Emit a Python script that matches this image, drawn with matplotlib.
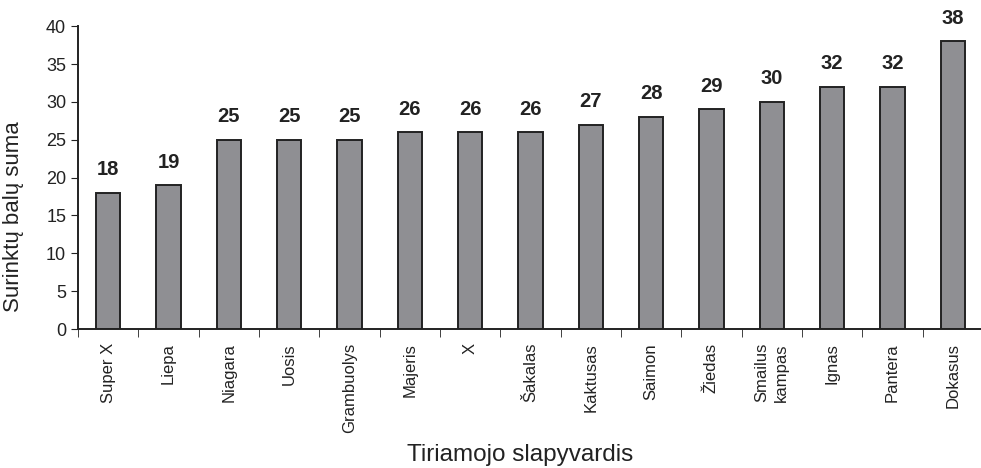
import numpy as np
import matplotlib.pyplot as plt

names = ["Super X", "Liepa", "Niagara", "Uosis", "Grambuolys", "Majeris", "X",
         "Šakalas", "Kaktusas", "Saimon", "Žiedas", "Smailus\nkampas", "Ignas",
         "Pantera", "Dokasus"]
scores = [18, 19, 25, 25, 25, 26, 26, 26, 27, 28, 29, 30, 32, 32, 38]

plt.rcParams['font.family'] = ['Liberation Sans', 'DejaVu Sans']

fig = plt.figure(figsize=(9.81, 4.68), dpi=100)
ax = fig.add_axes([0.0795, 0.297, 0.9225, 0.647])

x = np.arange(len(names))
ax.bar(x, scores, width=0.4, color='#8f8f93', edgecolor='#222222', linewidth=1.4)

for xi, v in zip(x, scores):
    ax.text(xi, v + 1.8, str(v), ha='center', va='bottom',
            fontsize=14.5, fontweight='bold', color='#222222')

ax.set_xlim(-0.5, len(names) - 0.5)
ax.set_ylim(0, 40)
ax.set_yticks(range(0, 41, 5))
ax.tick_params(axis='y', labelsize=13, direction='out', length=5, colors='#222222')

# category labels centred, tick marks on the boundaries
ax.set_xticks(x)
ax.set_xticklabels(names, rotation=90, fontsize=12, color='#222222', linespacing=1.35)
ax.tick_params(axis='x', which='major', length=0, pad=10)
ax.set_xticks(np.arange(-0.5, len(names), 1.0), minor=True)
ax.tick_params(axis='x', which='minor', length=6, direction='out', color='#222222')

for s in ['top', 'right']:
    ax.spines[s].set_visible(False)
for s in ['left', 'bottom']:
    ax.spines[s].set_color('#222222')
    ax.spines[s].set_linewidth(1.4)

ax.set_ylabel("Surinktų balų suma", fontsize=16, color='#222222')
ax.yaxis.set_label_coords(-0.06, 0.37)
fig.text(0.53, 0.028, "Tiriamojo slapyvardis", ha='center', va='center',
         fontsize=17.5, color='#222222')

fig.savefig("out.png", dpi=100)
